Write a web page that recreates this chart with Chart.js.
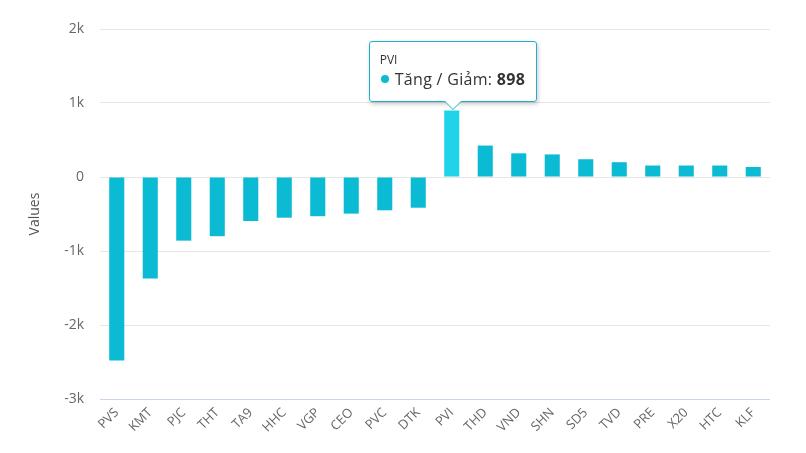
<!DOCTYPE html>
<html>
<head>
<meta charset="utf-8">
<script src="https://cdn.jsdelivr.net/npm/chart.js@4"></script>
<style>
  body { margin: 0; background: #fff; }
  #wrap { position: relative; width: 806px; height: 453px; }
  #tip {
    position: absolute; display: none; box-sizing: border-box;
    background: rgba(255,255,255,0.96); border: 1px solid #1cb3c8; border-radius: 3px;
    box-shadow: 1px 2px 4px rgba(0,0,0,0.22);
    padding: 9px 11px 11px 10px; font-family: "Open Sans", sans-serif; color: #333; white-space: nowrap;
  }
  #tip .t { font-size: 12px; line-height: 17px; }
  #tip .b { font-size: 16px; line-height: 22px; letter-spacing: 0.3px; }
  #tip .dot { display: inline-block; width: 8px; height: 8px; border-radius: 50%; margin: 0 6px 2px 1px; vertical-align: middle; }
  #tip:after, #tip:before {
    content: ""; position: absolute; left: 50%; top: 100%; border: solid transparent;
  }
  #tip:before { border-width: 9px; border-top-color: #1cb3c8; margin-left: -9px; }
  #tip:after { border-width: 8px; border-top-color: #fff; margin-left: -8px; }
</style>
</head>
<body>
<div id="wrap">
  <canvas id="myChart" width="806" height="453"></canvas>
  <div id="tip"></div>
</div>
<script>
const categories = ['PVS', 'KMT', 'PJC', 'THT', 'TA9', 'HHC', 'VGP', 'CEO', 'PVC', 'DTK',
  'PVI', 'THD', 'VND', 'SHN', 'SD5', 'TVD', 'PRE', 'X20', 'HTC', 'KLF']
const values = [-2480, -1370, -860, -800, -595, -550, -530, -495, -450, -415,
  898, 425, 320, 305, 240, 200, 155, 155, 155, 135]
const seriesName = 'Tăng / Giảm'
const yTicks = [-3000, -2000, -1000, 0, 1000, 2000]
const activeIndex = categories.indexOf('PVI')

const barColor = '#0abbd3'
const tip = document.getElementById('tip')

const externalTip = (ctx) => {
  const t = ctx.tooltip
  if (t.opacity === 0) { tip.style.display = 'none'; return }
  const p = t.dataPoints[0]
  tip.innerHTML = `<div class="t">${t.title[0]}</div>` +
    `<div class="b"><span class="dot" style="background:${barColor}"></span>${p.dataset.label}: <b>${p.raw}</b></div>`
  tip.style.display = 'block'
  const w = tip.offsetWidth, h = tip.offsetHeight
  tip.style.left = (t.caretX - w / 2 + 1) + 'px'
  tip.style.top = (t.caretY - h - 9) + 'px'
}

const config = {
  type: 'bar',
  data: {
    labels: categories,
    datasets: [{
      label: seriesName,
      data: values,
      backgroundColor: barColor,
      hoverBackgroundColor: '#20d2ea',
      borderWidth: 0,
      barPercentage: 0.45,
      categoryPercentage: 1
    }]
  },
  options: {
    responsive: false,
    animation: false,
    layout: { padding: { top: 29, right: 36, left: 0, bottom: 0 } },
    events: [],
    scales: {
      x: {
        grid: { display: false, drawTicks: false },
        border: { display: false },
        ticks: {
          color: '#666', font: { family: 'Open Sans', size: 13 },
          minRotation: 45, maxRotation: 45, autoSkip: false, padding: 6
        },
        afterFit: (s) => { s.height = 54 }
      },
      y: {
        min: -3000, max: 2000,
        afterBuildTicks: (s) => { s.ticks = yTicks.map((v) => ({ value: v })) },
        grid: {
          color: (c) => c.tick && c.tick.value === -3000 ? '#ccd6eb' : '#e6e6e6',
          drawTicks: false
        },
        border: { display: false },
        ticks: {
          color: '#666', font: { family: 'Open Sans', size: 14 }, padding: 16,
          callback: (v) => v === 0 ? '0' : (v / 1000) + 'k'
        },
        title: {
          display: true, text: 'Values', color: '#555',
          font: { family: 'Open Sans', size: 14 }, padding: { top: 27, bottom: 0 }
        },
        afterFit: (s) => { s.width = 100 }
      }
    },
    plugins: {
      legend: { display: false },
      tooltip: { enabled: false, external: externalTip }
    }
  }
}

const myChart = new Chart(document.getElementById('myChart'), config)
const act = [{ datasetIndex: 0, index: activeIndex }]
const el = myChart.getDatasetMeta(0).data[activeIndex]
myChart.setActiveElements(act)
myChart.tooltip.setActiveElements(act, { x: el.x, y: el.y })
myChart.update()
</script>
</body>
</html>
